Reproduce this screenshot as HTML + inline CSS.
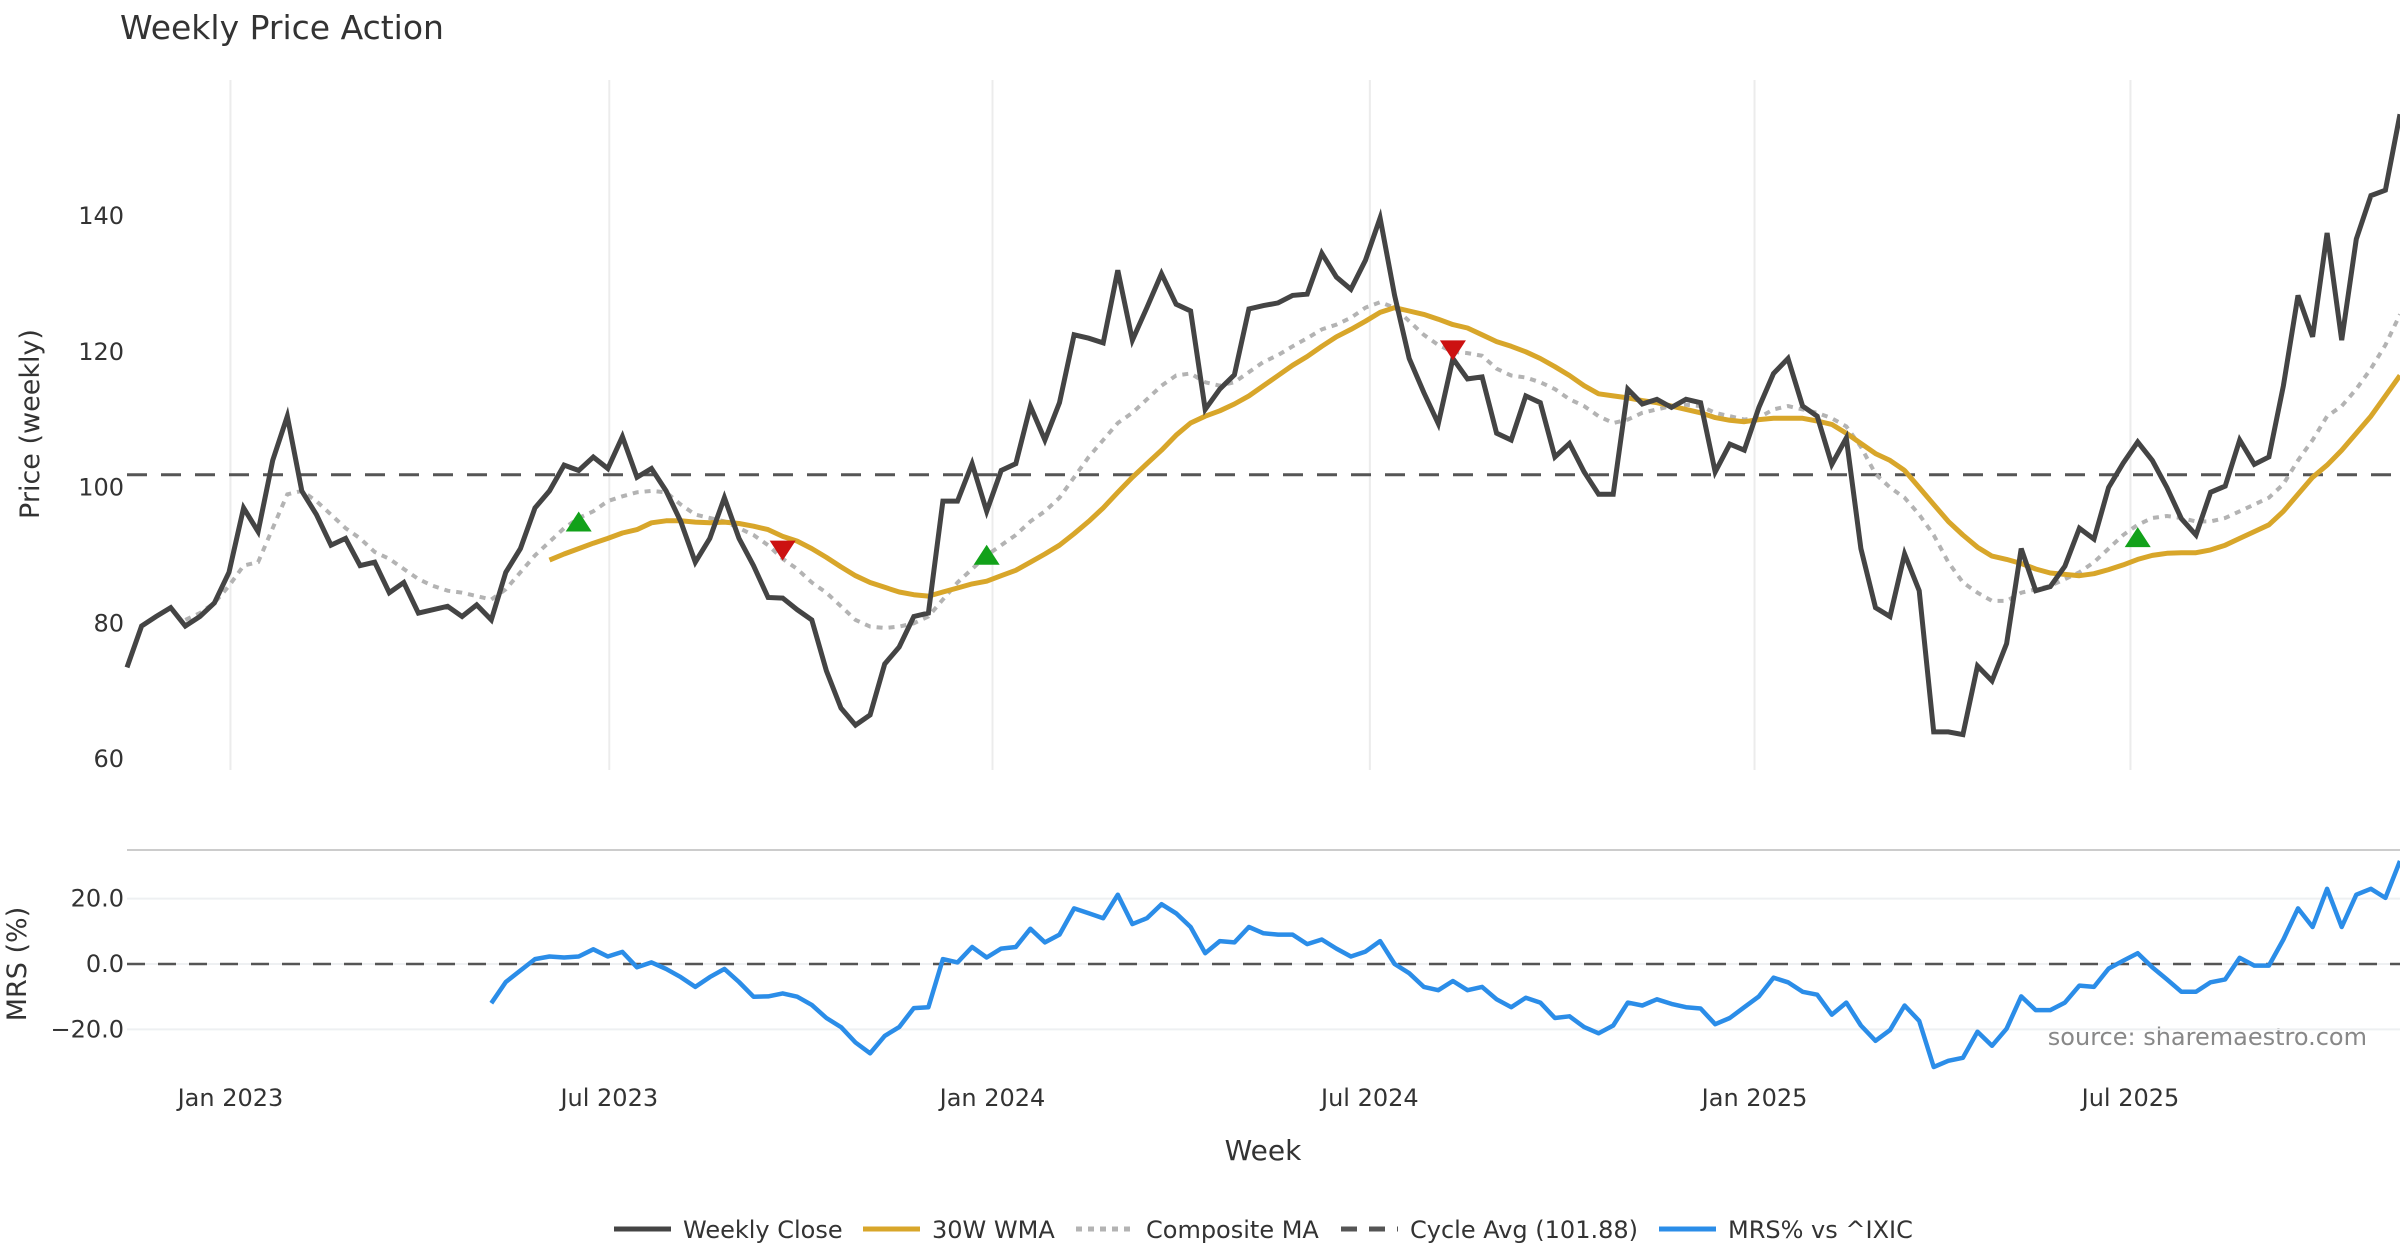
<!DOCTYPE html>
<html><head><meta charset="utf-8"><style>
html,body{margin:0;padding:0;background:#fff;}
svg{display:block;font-family:"DejaVu Sans","Liberation Sans",sans-serif;}
</style></head><body>
<svg id="chart" width="2400" height="1260" viewBox="0 0 2400 1260" xmlns="http://www.w3.org/2000/svg">
<text x="120" y="39" font-size="33" fill="#333">Weekly Price Action</text>
<text transform="translate(39,424) rotate(-90)" text-anchor="middle" font-size="27" fill="#333">Price (weekly)</text>
<text transform="translate(26,964) rotate(-90)" text-anchor="middle" font-size="27" fill="#333">MRS (%)</text>
<text x="1263" y="1160" text-anchor="middle" font-size="28" fill="#333">Week</text>
<text x="2367" y="1045" text-anchor="end" font-size="24" fill="#888">source: sharemaestro.com</text>
<line x1="127" x2="2400" y1="850" y2="850" stroke="#ccc" stroke-width="2"/>
<g id="grid"></g><g id="marks"></g><g id="legend"></g>
</svg>
<script>
const closes=[73.5,79.6,81,82.3,79.6,81,83,87.5,97,93.5,104,110.5,99.5,96,91.5,92.5,88.5,89,84.5,86,81.5,82,82.5,81,82.7,80.5,87.5,91,97,99.5,103.3,102.5,104.5,102.8,107.5,101.5,102.8,99.5,95,89,92.5,98.5,92.5,88.5,83.8,83.7,82,80.5,73,67.5,65,66.5,74,76.5,81,81.5,98,98,103.5,96.5,102.5,103.5,112,107,112.5,122.5,122,121.3,132,121.7,126.5,131.5,127,126,111.5,114.5,116.6,126.3,126.8,127.2,128.3,128.5,134.5,131,129.2,133.5,139.7,128.3,119,114,109.4,119,116,116.3,108,107,113.5,112.5,104.5,106.5,102.3,99,99,114.5,112.3,113,111.8,113,112.5,102.3,106.4,105.5,111.8,116.8,119,112,110.5,103.4,107.3,91,82.3,81,90.2,84.8,64,64,63.6,73.7,71.5,77,91,84.8,85.4,88.4,94,92.4,100,103.6,106.7,104,100,95.4,93,99.3,100.2,107,103.4,104.5,115,128.3,122.2,137.5,121.7,136.6,143,143.8,155];
const compositeMA=[80.5,81.5,83,85.5,88.5,89,94,99,99.5,98,96,94,92.5,90.5,89.5,88,86.5,85.5,84.8,84.5,84,83.5,85,87.5,90,92,94,95.5,96.5,98,98.7,99.3,99.5,99.3,97.5,96,95.5,95,94,93,91.5,89.5,88,86,84.5,82.5,80.5,79.5,79.3,79.5,80,81,83.5,86,88,90,91.5,93,95,96.5,98.5,101.5,104.5,107,109.5,111,113,115,116.5,116.8,115.5,115,115.5,117,118.5,119.5,120.8,122,123.3,124,125,126.5,127.3,126.5,124.5,122.5,121,120,119.8,119.4,117.5,116.5,116.2,115.5,114.5,113,112,110.5,109.5,110,111,111.5,112,112.2,112,111,110.5,110,110.3,111.5,112,111.5,111,110.2,109,106,102,100,98.5,96,93,89,86,84.5,83.3,83.3,84.5,85,85.5,86.5,87.5,89,91,93,94.5,95.5,95.8,95.5,95,95,95.5,96.5,97.5,98.5,100.5,104,107,110.5,112,114.5,117.5,121,125.5];
const wma30=[89.3,90.2,91,91.8,92.5,93.3,93.8,94.8,95.1,95.1,94.9,94.8,94.9,94.7,94.3,93.8,92.8,92.1,91,89.7,88.3,87,86,85.3,84.6,84.2,84,84.6,85.2,85.8,86.2,87,87.8,89,90.2,91.5,93.2,95,97,99.3,101.5,103.5,105.5,107.7,109.5,110.5,111.3,112.3,113.5,115,116.5,118,119.3,120.8,122.2,123.3,124.5,125.8,126.5,126,125.5,124.8,124,123.5,122.5,121.5,120.8,120,119,117.8,116.5,115,113.8,113.5,113.2,112.8,112.5,112,111.5,111,110.3,109.9,109.7,110,110.2,110.2,110.2,109.8,109.3,108,106.5,105,104,102.5,100,97.5,95,93,91.2,89.9,89.4,88.8,88,87.4,87.2,87,87.3,87.9,88.6,89.4,90,90.3,90.4,90.4,90.8,91.5,92.5,93.5,94.5,96.5,99,101.5,103.3,105.5,108,110.5,113.5,116.5];
const mrs=[-12,-5.5,-2,1.5,2.3,2,2.3,4.5,2.3,3.7,-1,0.5,-1.5,-4,-7,-4,-1.5,-5.5,-10,-9.9,-9,-10,-12.5,-16.5,-19.3,-24,-27.3,-22,-19.3,-13.5,-13.2,1.5,0.5,5.2,2,4.7,5.2,10.8,6.6,9,17,15.5,14,21.2,12.2,14,18.3,15.5,11.3,3.3,7,6.6,11.3,9.4,9,9,6.1,7.5,4.7,2.3,3.8,7,0,-2.8,-7,-8,-5.2,-8,-7,-10.8,-13.2,-10.3,-11.8,-16.5,-16,-19.3,-21.2,-18.8,-11.8,-12.7,-10.8,-12.2,-13.2,-13.6,-18.4,-16.5,-13.2,-9.9,-4.2,-5.6,-8.5,-9.4,-15.5,-11.8,-18.8,-23.5,-20.2,-12.7,-17.4,-31.5,-29.6,-28.7,-20.7,-25,-19.8,-9.9,-14.1,-14.1,-11.8,-6.6,-7,-1.4,1,3.3,-1,-4.7,-8.5,-8.5,-5.6,-4.7,1.9,-0.5,-0.5,7.5,17,11.3,23,11.3,21.2,23,20.2,31.5];
const cycleAvg=101.88;
const buyIdx=[31,59,138];
const buyVal=[94.7,89.8,92.4];
const sellIdx=[45,91];
const sellVal=[91,120.5];
const dateLabels=["Jan 2023","Jul 2023","Jan 2024","Jul 2024","Jan 2025","Jul 2025"];
const dateIdx=[7.1,33.1,59.4,85.3,111.7,137.5];
const priceTicks=[60,80,100,120,140];
const mrsTicks=[-20,0,20];

const NS="http://www.w3.org/2000/svg";
const N=closes.length;
const X0=127,X1=2400;
function xs(i){return X0+i*(X1-X0)/(N-1);}
function yp(v){return 759-(v-60)*6.7875;}
function ym(v){return 964-v*3.27;}
function mk(tag,attrs,parent){const e=document.createElementNS(NS,tag);for(const k in attrs)e.setAttribute(k,attrs[k]);parent.appendChild(e);return e;}
const grid=document.getElementById('grid'),marks=document.getElementById('marks'),leg=document.getElementById('legend');

dateIdx.forEach((d,k)=>{
  const x=xs(d);
  let l=mk('line',{x1:x,x2:x,y1:80,y2:770,stroke:'#ececec','stroke-width':2},grid);
  
  
  let t=mk('text',{x:x,y:1106,'text-anchor':'middle','font-size':24,fill:'#333'},grid);
  t.textContent=dateLabels[k];
  
  
});
priceTicks.forEach(v=>{
  let t=mk('text',{x:124,y:yp(v)+8,'text-anchor':'end','font-size':24,fill:'#333'},grid);
  t.textContent=String(v);
  
  
});
mrsTicks.forEach(v=>{
  let l=mk('line',{x1:127,x2:2400,y1:ym(v),y2:ym(v),stroke:'#eef0f2','stroke-width':2},grid);
  
  
  let t=mk('text',{x:124,y:ym(v)+8,'text-anchor':'end','font-size':24,fill:'#333'},grid);
  t.textContent=(v<0?'\u2212':'')+Math.abs(v).toFixed(1);
  
  
});

let ca=mk('line',{x1:127,x2:2400,y1:yp(cycleAvg),y2:yp(cycleAvg),stroke:'#555','stroke-width':3,'stroke-dasharray':'20 14'},marks);


let z=mk('line',{x1:127,x2:2400,y1:ym(0),y2:ym(0),stroke:'#555','stroke-width':2.5,'stroke-dasharray':'18 13'},marks);



function pts(arr,yf){const off=N-arr.length;return arr.map((v,i)=>xs(i+off).toFixed(1)+','+yf(v).toFixed(1)).join(' ');}
let cm=mk('polyline',{points:pts(compositeMA,yp),fill:'none',stroke:'#b3b3b3','stroke-width':4,'stroke-dasharray':'6 6'},marks);


let wm=mk('polyline',{points:pts(wma30,yp),fill:'none',stroke:'#d8a62a','stroke-width':5,'stroke-linejoin':'round'},marks);


let cl=mk('polyline',{points:pts(closes,yp),fill:'none',stroke:'#444','stroke-width':5,'stroke-linejoin':'miter'},marks);


let mr=mk('polyline',{points:pts(mrs,ym),fill:'none',stroke:'#2b8de8','stroke-width':4.5,'stroke-linejoin':'round'},marks);



buyIdx.forEach((d,k)=>{
  const x=xs(d),y=yp(buyVal[k]);
  let p=mk('polygon',{points:`${x-13},${y+8} ${x+13},${y+8} ${x},${y-12}`,fill:'#12a11a'},marks);
  
  
});
sellIdx.forEach((d,k)=>{
  const x=xs(d),y=yp(sellVal[k]);
  let p=mk('polygon',{points:`${x-13},${y-8} ${x+13},${y-8} ${x},${y+12}`,fill:'#cc1111'},marks);
  
  
});

const legItems=[["Weekly Close","#444","",614,683],["30W WMA","#d8a62a","",863,932],["Composite MA","#b3b3b3","6 6",1076,1146],["Cycle Avg (101.88)","#555","16 12",1341,1410],["MRS% vs ^IXIC","#2b8de8","",1659,1728]];
legItems.forEach(it=>{
  let l=mk('line',{x1:it[3],x2:it[3]+57,y1:1229,y2:1229,stroke:it[1],'stroke-width':5},leg);
  if(it[2])l.setAttribute('stroke-dasharray',it[2]);
  
  
  let t=mk('text',{x:it[4],y:1238,'font-size':24,fill:'#333'},leg);
  t.textContent=it[0];
  
  
});
</script>
</body></html>
